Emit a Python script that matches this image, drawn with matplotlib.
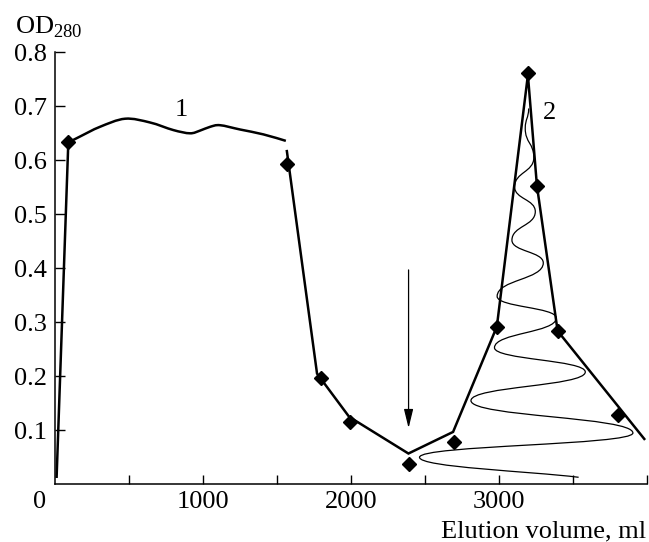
import matplotlib
matplotlib.use("Agg")
import matplotlib.pyplot as plt
from matplotlib.path import Path
from matplotlib.patches import PathPatch
from matplotlib.transforms import ScaledTranslation

plt.rcParams['font.family'] = ['Liberation Serif', 'DejaVu Serif']
plt.rcParams['mathtext.fontset'] = 'custom'
plt.rcParams['mathtext.rm'] = 'Liberation Serif'

# ---- data ----
# rising edge of fraction 1
edge1_x = [11, 90]
edge1_y = [0.014, 0.633]
# fraction 1 plateau (smooth curve)
curve1_x = [90, 169, 304, 474, 643, 800, 913, 981, 1049, 1116, 1252, 1409, 1561]
curve1_y = [0.633, 0.644, 0.662, 0.677, 0.670, 0.656, 0.650, 0.655, 0.662, 0.665, 0.657, 0.648, 0.636]

# broken line from 1570 ml onward
line2_x = [1568, 1772, 1989, 2390, 2692, 2988, 3198, 3259, 3399, 3985]
line2_y = [0.617, 0.205, 0.125, 0.057, 0.097, 0.292, 0.758, 0.553, 0.284, 0.084]

# measured points (diamonds)
pts_x = [90, 1572, 1800, 1996, 2395, 2700, 2988, 3198, 3259, 3399, 3805]
pts_y = [0.633, 0.594, 0.197, 0.116, 0.037, 0.079, 0.292, 0.761, 0.553, 0.284, 0.128]

# oscillating thin trace: turning points, top to bottom
osc_x = [3203, 3180, 3238, 3108, 3248, 3090, 3302, 2990, 3390, 2972, 3586, 2813, 3908, 2465, 3541]
osc_y = [0.696, 0.659, 0.605, 0.551, 0.505, 0.452, 0.410, 0.348, 0.308, 0.253, 0.208, 0.155, 0.095, 0.050, 0.013]

# arrow (sample application)
arrow_x = 2391
arrow_y0, arrow_y1 = 0.397, 0.104

xticks = [0, 500, 1000, 1500, 2000, 2500, 3000, 3500, 4000]
xticklabels = ['0', '', '1000', '', '2000', '', '3000', '', '']
yticks = [0.1, 0.2, 0.3, 0.4, 0.5, 0.6, 0.7, 0.8]
yticklabels = ['0.1', '0.2', '0.3', '0.4', '0.5', '0.6', '0.7', '0.8']

FS = 19

fig = plt.figure(figsize=(6.49, 5.42), dpi=100)
ax = fig.add_axes([55/649, (542-484.3)/542, (646.5-55)/649, (484.3-52.3)/542])
ax.set_xlim(0, 4000)
ax.set_ylim(0, 0.8)

for s in ['top', 'right']:
    ax.spines[s].set_visible(False)
for s in ['left', 'bottom']:
    ax.spines[s].set_linewidth(1.1)

ax.set_xticks(xticks)
ax.set_xticklabels(xticklabels, fontsize=FS)
ax.set_yticks(yticks)
ax.set_yticklabels(yticklabels, fontsize=FS)
ax.tick_params(axis='x', direction='in', length=6.5, width=1.0, pad=5)
ax.tick_params(axis='y', direction='in', length=7, width=1.0, pad=6)
# shift "0" label left of the origin
lab0 = ax.get_xticklabels()[0]
lab0.set_transform(lab0.get_transform() + ScaledTranslation(-0.15, 0, fig.dpi_scale_trans))
ax.xaxis.get_major_ticks()[0].tick1line.set_visible(False)


def smooth_path(xs, ys, t=1/6):
    """Catmull-Rom style Bezier path through the given points (rendering only)."""
    pts = list(zip(xs, ys))
    verts = [pts[0]]
    codes = [Path.MOVETO]
    for i in range(len(pts) - 1):
        p0 = pts[i - 1] if i > 0 else pts[i]
        p1, p2 = pts[i], pts[i + 1]
        p3 = pts[i + 2] if i + 2 < len(pts) else pts[i + 1]
        c1 = (p1[0] + (p2[0] - p0[0]) * t, p1[1] + (p2[1] - p0[1]) * t)
        c2 = (p2[0] - (p3[0] - p1[0]) * t, p2[1] - (p3[1] - p1[1]) * t)
        verts += [c1, c2, p2]
        codes += [Path.CURVE4] * 3
    return Path(verts, codes)


# thick lines
ax.plot(edge1_x, edge1_y, color='black', lw=1.8, zorder=3)
ax.add_patch(PathPatch(smooth_path(curve1_x, curve1_y), facecolor='none', edgecolor='black',
                       lw=1.8, zorder=3))
ax.plot(line2_x, line2_y, color='black', lw=1.8, solid_joinstyle='miter', zorder=3)
ax.plot(pts_x, pts_y, linestyle='none', marker='D', ms=7, color='black', zorder=4, clip_on=False)

# thin oscillating trace as smooth Bezier through turning points
k = 0.5
verts = [(osc_x[0], osc_y[0])]
codes = [Path.MOVETO]
n = len(osc_x)
for i in range(n - 1):
    x0, y0 = osc_x[i], osc_y[i]
    x1, y1 = osc_x[i + 1], osc_y[i + 1]
    dy = y1 - y0
    c1 = (x0, y0 + k * dy)
    c2 = (x1, y1 - k * dy) if i + 1 < n - 1 else (x1 - 0.3 * (x1 - x0), y1 - 0.3 * dy)
    verts += [c1, c2, (x1, y1)]
    codes += [Path.CURVE4] * 3
ax.add_patch(PathPatch(Path(verts, codes), facecolor='none', edgecolor='black', lw=0.9, zorder=2))

# arrow
ax.annotate('', xy=(arrow_x, arrow_y1), xytext=(arrow_x, arrow_y0),
            arrowprops=dict(arrowstyle='-|>,head_length=1.15,head_width=0.28', color='black',
                            lw=0.9, mutation_scale=10, shrinkA=0, shrinkB=0))

ax.text(857, 0.693, '1', fontsize=FS, ha='center', va='center')
ax.text(3344, 0.687, '2', fontsize=FS, ha='center', va='center')

fig.text(15/649, (542-33.3)/542, r'OD$_{\rm 280}$', fontsize=FS, ha='left', va='baseline')
fig.text(646/649, (542-537)/542, 'Elution volume, ml', fontsize=FS, ha='right', va='baseline')

fig.savefig('out.png', dpi=100)
